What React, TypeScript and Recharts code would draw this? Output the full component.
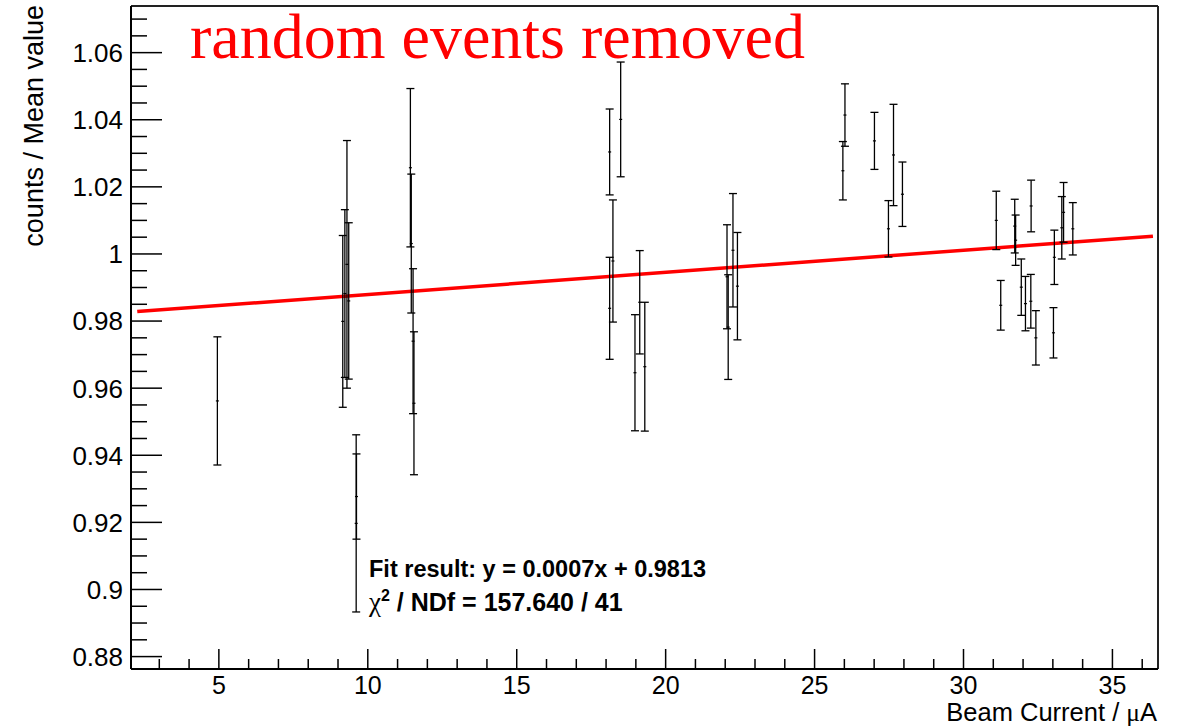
import React from 'react';
import { ComposedChart, Scatter, ErrorBar, XAxis, YAxis, ReferenceLine } from 'recharts';

// beam current (uA), normalised counts, and their errors
const beamCurrent = [
    4.95, 9.16, 9.23, 9.30, 9.36, 9.61, 9.62, 11.43, 11.46, 11.52, 11.55,
    18.12, 18.12, 18.23, 18.49, 18.97, 19.13, 19.30, 22.06, 22.10, 22.26, 22.41,
    25.95, 26.02, 27.01, 27.48, 27.65, 27.95, 31.10, 31.25, 31.72, 31.75, 31.94,
    32.08, 32.26, 32.27, 32.43, 33.02, 33.05, 33.30, 33.36, 33.67
];
const meanRatio = [
    0.9562, 0.9799, 0.9882, 0.9969, 0.9860, 0.9197, 0.9277, 1.0257, 1.0031, 0.9740, 0.9555,
    1.0304, 0.9838, 0.9979, 1.0401, 0.9646, 0.9856, 0.9664, 0.9932, 0.9782, 1.0011, 0.9904,
    1.0248, 1.0414, 1.0337, 1.0075, 1.0295, 1.0178, 1.0100, 0.9847, 1.0083, 1.0041, 0.9901,
    0.9852, 0.9859, 1.0143, 0.9750, 0.9765, 0.9990, 1.0078, 1.0124, 1.0075
];
const ratioError = [
    0.0191, 0.0256, 0.0250, 0.0369, 0.0233, 0.0264, 0.0127, 0.0236, 0.0207, 0.0216, 0.0213,
    0.0128, 0.0152, 0.0182, 0.0171, 0.0173, 0.0154, 0.0192, 0.0155, 0.0156, 0.0169, 0.0160,
    0.0087, 0.0093, 0.0085, 0.0084, 0.0151, 0.0096, 0.0087, 0.0074, 0.0080, 0.0075, 0.0084,
    0.0081, 0.0080, 0.0077, 0.0081, 0.0075, 0.0081, 0.0093, 0.0089, 0.0078
];

// fit line end points
const fitX = [2.26, 36.36];
const fitY = [0.98283, 1.0053];

const xMajorTicks = [5, 10, 15, 20, 25, 30, 35];
const yMajorTicks = [0.88, 0.9, 0.92, 0.94, 0.96, 0.98, 1, 1.02, 1.04, 1.06];
const yTickLabels = ['0.88', '0.9', '0.92', '0.94', '0.96', '0.98', '1', '1.02', '1.04', '1.06'];

const X_DOMAIN = [2.05, 36.53];
const Y_DOMAIN = [0.8763, 1.0739];

const FONT = '"Liberation Sans", Arial, Helvetica, sans-serif';

const points = beamCurrent.map((x, i) => ({ x, y: meanRatio[i], err: ratioError[i] }));

// minor ticks: every 1 uA and every 0.005
const xTicks: number[] = [];
for (let v = 3; v <= 36; v++) xTicks.push(v);
const yTicks: number[] = [];
for (let k = 0; k <= 38; k++) yTicks.push(Math.round((0.88 + k * 0.005) * 1000) / 1000);

const XTick = ({ x, y, payload }: any) => {
    const v = payload.value;
    const major = xMajorTicks.includes(v);
    return (
        <g>
            <line x1={x} x2={x} y1={y} y2={y - (major ? 20 : 10)} stroke="#000" strokeWidth={1.5} />
            {major && (
                <text x={x} y={y + 25} textAnchor="middle" fontFamily={FONT} fontSize={25} fill="#000">
                    {v}
                </text>
            )}
        </g>
    );
};

const YTick = ({ x, y, payload }: any) => {
    const v = payload.value;
    const idx = yMajorTicks.findIndex((t) => Math.abs(t - v) < 1e-6);
    const major = idx >= 0;
    return (
        <g>
            <line x1={x} x2={x + (major ? 31 : 16)} y1={y} y2={y} stroke="#000" strokeWidth={1.5} />
            {major && (
                <text x={x - 8} y={y} dy="0.36em" textAnchor="end" fontFamily={FONT} fontSize={26} fill="#000">
                    {yTickLabels[idx]}
                </text>
            )}
        </g>
    );
};

const CenterMark = ({ cx, cy }: any) => (
    <rect x={cx - 1.5} y={cy - 0.6} width={3} height={1.2} fill="#000" />
);

export default function App() {
    return (
        <div style={{ position: 'absolute', left: 0, top: 0, width: 1179, height: 728, background: '#fff' }}>
            <ComposedChart width={1179} height={728} margin={{ top: 6, right: 21, left: 0, bottom: 0 }}>
                <XAxis
                    type="number"
                    dataKey="x"
                    domain={X_DOMAIN}
                    allowDataOverflow
                    ticks={xTicks}
                    interval={0}
                    height={59}
                    tickSize={0}
                    tickMargin={0}
                    tickLine={false}
                    tick={<XTick />}
                    axisLine={{ stroke: '#000', strokeWidth: 2 }}
                />
                <YAxis
                    type="number"
                    dataKey="y"
                    domain={Y_DOMAIN}
                    allowDataOverflow
                    ticks={yTicks}
                    interval={0}
                    width={131}
                    tickSize={0}
                    tickMargin={0}
                    tickLine={false}
                    tick={<YTick />}
                    axisLine={{ stroke: '#000', strokeWidth: 2 }}
                />
                <ReferenceLine y={Y_DOMAIN[1]} stroke="#222" strokeWidth={2} />
                <ReferenceLine x={X_DOMAIN[1]} stroke="#222" strokeWidth={2} />
                <ReferenceLine
                    segment={[{ x: fitX[0], y: fitY[0] }, { x: fitX[1], y: fitY[1] }]}
                    stroke="#ff0000"
                    strokeWidth={3.5}
                />
                <Scatter data={points} shape={<CenterMark />} isAnimationActive={false}>
                    <ErrorBar dataKey="err" direction="y" width={4} stroke="#000" strokeWidth={1.3} isAnimationActive={false} />
                </Scatter>
            </ComposedChart>
            <svg width={1179} height={728} style={{ position: 'absolute', left: 0, top: 0, pointerEvents: 'none' }}>
                <text x={190} y={58} fontFamily='"Liberation Serif", "Times New Roman", serif' fontSize={64} fill="#ff0000">
                    random events removed
                </text>
                <text x={369} y={577} fontFamily={FONT} fontSize={23.5} fontWeight="bold" fill="#000">
                    Fit result: y = 0.0007x + 0.9813
                </text>
                <text x={369} y={611} fontFamily={FONT} fontSize={25} fontWeight="bold" fill="#000">
                    <tspan fontFamily='"Liberation Serif", serif' fontWeight="normal" fontSize={27}>χ</tspan>
                    <tspan dy={-10} fontSize={16}>2</tspan>
                    <tspan dy={10}> / NDf = 157.640 / 41</tspan>
                </text>
                <text
                    transform="rotate(-90, 43, 5)"
                    x={43}
                    y={5}
                    textAnchor="end"
                    fontFamily={FONT}
                    fontSize={27}
                    fill="#000"
                >
                    counts / Mean value
                </text>
                <text x={1157} y={721} textAnchor="end" fontFamily={FONT} fontSize={25.5} fill="#000">
                    Beam Current / <tspan fontFamily='"Liberation Serif", serif'>μ</tspan>A
                </text>
            </svg>
        </div>
    );
}
